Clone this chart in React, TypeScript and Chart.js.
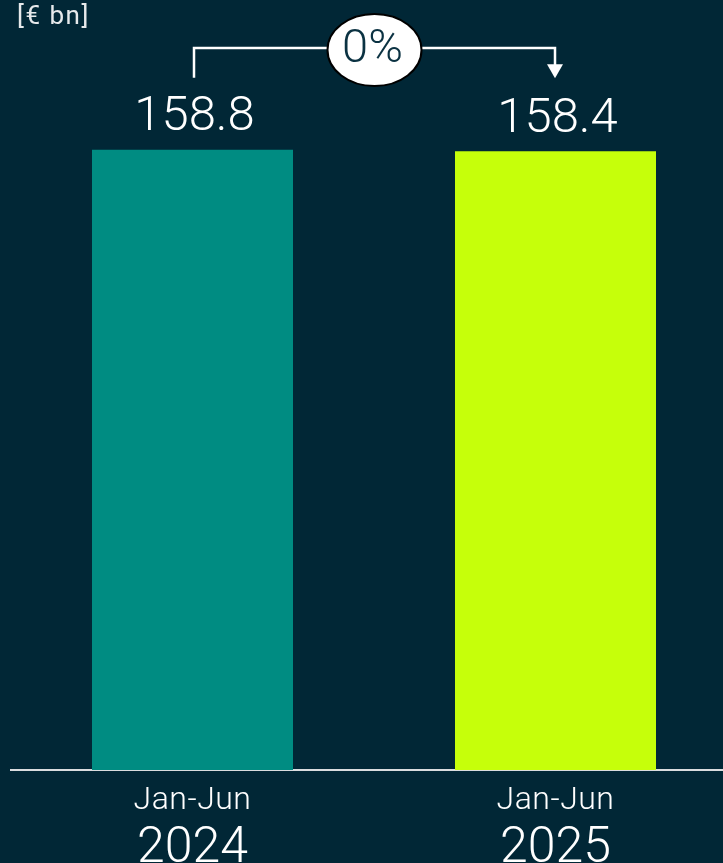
import React, { useEffect, useRef } from "react";
import { Chart, registerables } from "chart.js";

Chart.register(...registerables);

const periods = ["Jan-Jun", "Jan-Jun"];
const years = ["2024", "2025"];
const values = [158.8, 158.4];
const barColors = ["#008C82", "#C6FF0A"];
const changeLabel = "0%";
const unitLabel = "[€ bn]";

const BG = "#012736";
const FONT = "Roboto, 'Noto Sans', sans-serif";

const overlayPlugin = {
  id: "overlay",
  afterDraw(chart: any) {
    const ctx = chart.ctx;
    const meta = chart.getDatasetMeta(0);
    const bars = meta.data;
    ctx.save();

    // unit label
    ctx.fillStyle = "#E6E9EB";
    ctx.font = `26px ${FONT}`;
    (ctx as any).letterSpacing = "1.5px";
    ctx.textAlign = "left";
    ctx.textBaseline = "middle";
    ctx.fillText(unitLabel, 17, 17);
    (ctx as any).letterSpacing = "0px";

    // value labels
    ctx.fillStyle = "#FFFFFF";
    ctx.font = `300 49px ${FONT}`;
    ctx.textAlign = "center";
    ctx.textBaseline = "middle";
    bars.forEach((b: any, i: number) => {
      ctx.fillText(values[i].toFixed(1), b.x + 2, b.y - 32);
    });

    // category labels
    const xs = chart.scales.x;
    const bottom = chart.chartArea.bottom;
    periods.forEach((p, i) => {
      const x = xs.getPixelForValue(i);
      ctx.font = `300 32px ${FONT}`;
      (ctx as any).letterSpacing = "0.5px";
      ctx.fillText(p, x, bottom + 31);
      (ctx as any).letterSpacing = "0px";
      ctx.font = `300 50px ${FONT}`;
      ctx.fillText(years[i], x, bottom + 79);
    });

    // bracket with arrow
    const x1 = bars[0].x + 1.5;
    const x2 = bars[1].x - 0.5;
    const yTop = 48;
    ctx.strokeStyle = "#FFFFFF";
    ctx.lineWidth = 2.5;
    ctx.beginPath();
    ctx.moveTo(x1, bars[0].y - 72);
    ctx.lineTo(x1, yTop);
    ctx.lineTo(x2, yTop);
    ctx.lineTo(x2, bars[1].y - 86);
    ctx.stroke();
    ctx.fillStyle = "#FFFFFF";
    ctx.beginPath();
    ctx.moveTo(x2 - 8, bars[1].y - 87);
    ctx.lineTo(x2 + 8, bars[1].y - 87);
    ctx.lineTo(x2, bars[1].y - 73);
    ctx.closePath();
    ctx.fill();

    // bubble
    const cx = (x1 + x2) / 2;
    const cy = 50;
    ctx.beginPath();
    ctx.ellipse(cx, cy, 47, 36, 0, 0, Math.PI * 2);
    ctx.fillStyle = "#FFFFFF";
    ctx.fill();
    ctx.lineWidth = 2;
    ctx.strokeStyle = "#000000";
    ctx.stroke();
    ctx.fillStyle = "#0B3242";
    ctx.font = `300 47px ${FONT}`;
    ctx.textAlign = "center";
    ctx.textBaseline = "middle";
    ctx.fillText(changeLabel, cx - 2, cy);

    ctx.restore();
  },
};

export default function App() {
  const ref = useRef<HTMLCanvasElement | null>(null);

  useEffect(() => {
    document.body.style.margin = "0";
    document.body.style.background = BG;
    if (!ref.current) return;
    const chart = new Chart(ref.current, {
      type: "bar",
      data: {
        labels: years,
        datasets: [
          {
            data: values,
            backgroundColor: barColors,
            borderWidth: 0,
            barPercentage: 201 / 363,
            categoryPercentage: 1,
          },
        ],
      },
      options: {
        responsive: false,
        animation: false,
        devicePixelRatio: 1,
        layout: { padding: { top: 67, left: 11, right: 0, bottom: 0 } },
        plugins: {
          legend: { display: false },
          tooltip: { enabled: false },
        },
        scales: {
          x: {
            grid: { display: false, drawTicks: false },
            border: { display: true, color: "#DADDDF", width: 2 },
            ticks: { display: false },
            afterFit: (scale: any) => {
              scale.height = 93;
            },
          },
          y: {
            display: false,
            min: 0,
            max: 180,
          },
        },
      },
      plugins: [overlayPlugin],
    });
    return () => chart.destroy();
  }, []);

  return (
    <div
      style={{
        position: "absolute",
        left: 0,
        top: 0,
        width: 723,
        height: 863,
        overflow: "hidden",
        background: BG,
      }}
    >
      <canvas ref={ref} width={737} height={863} style={{ display: "block" }} />
    </div>
  );
}
